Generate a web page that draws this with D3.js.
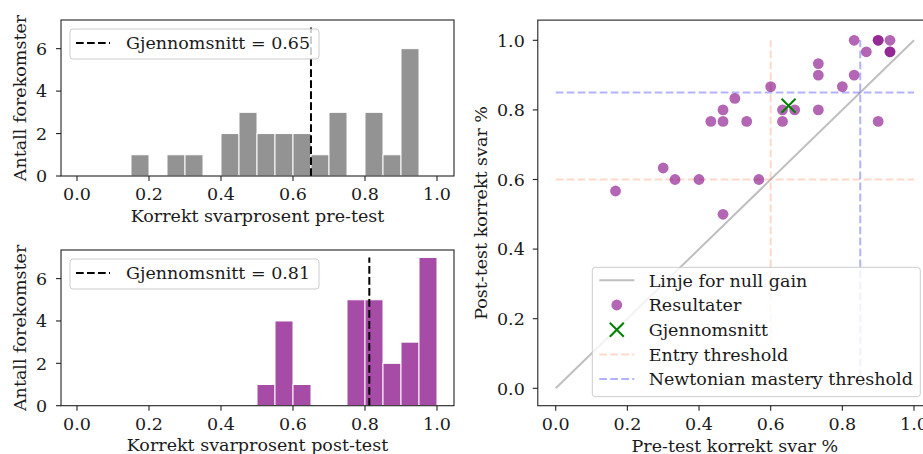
<!DOCTYPE html>
<html><head><meta charset="utf-8">
<script src="https://cdn.jsdelivr.net/npm/d3@7"></script>
<style>
body{margin:0;background:#fff;overflow:hidden}
svg{display:block}
text{font-family:"DejaVu Serif";fill:#1a1a1a}
</style>
</head><body>
<svg id="c" width="923" height="454"></svg>
<script>
// ---------- data ----------
const binEdges = [0,0.05,0.1,0.15,0.2,0.25,0.3,0.35,0.4,0.45,0.5,0.55,0.6,0.65,0.7,0.75,0.8,0.85,0.9,0.95,1.0];
const preCounts  = [0,0,0,1,0,1,1,0,2,3,2,2,2,1,3,0,3,1,6,0];
const postCounts = [0,0,0,0,0,0,0,0,0,0,1,4,1,0,0,5,5,2,3,7];
const preScores  = [0.833,0.9,0.9,0.933,0.867,0.933,0.933,0.733,0.733,0.833,0.8,0.6,0.5,0.467,0.633,0.667,0.733,0.433,0.467,0.533,0.633,0.9,0.3,0.333,0.4,0.567,0.167,0.467];
const postScores = [1.0,1.0,1.0,1.0,0.967,0.967,0.967,0.933,0.9,0.9,0.867,0.867,0.833,0.8,0.8,0.8,0.8,0.767,0.767,0.767,0.767,0.767,0.633,0.6,0.6,0.6,0.567,0.5];
const xTicks = [0.0,0.2,0.4,0.6,0.8,1.0];
const histYTicks = [0,2,4,6];
const scatYTicks = [0.0,0.2,0.4,0.6,0.8,1.0];
const entryThreshold = 0.6;
const masteryThreshold = 0.85;
const scatterLegend = ["Linje for null gain","Resultater","Gjennomsnitt","Entry threshold","Newtonian mastery threshold"];
const histXLabels = ["Korrekt svarprosent pre-test","Korrekt svarprosent post-test"];

const FS = 17.5;
const svg = d3.select("#c");
const fmt = d3.format(".1f");
const DASH = "7.7,3.3";

const preMean = d3.mean(preScores), postMean = d3.mean(postScores);

function frame(g, x0, x1, y0, y1){
  g.append("rect").attr("x",x0).attr("y",y0).attr("width",x1-x0).attr("height",y1-y0)
   .attr("fill","none").attr("stroke","#222").attr("stroke-width",1.1);
}

function hist(top, bottom, counts, color, mean, xlabel){
  const g = svg.append("g");
  const x = d3.scaleLinear().domain([0,1]).range([77,437]);
  const y = d3.scaleLinear().domain([0,7]).range([bottom, bottom-(bottom-top)*7/7.35]);
  const L = x(-0.0444), R = x(1.0472);
  const bins = counts.map((c,i)=>({x0:binEdges[i], x1:binEdges[i+1], c}));
  g.selectAll("rect.bar").data(bins.filter(b=>b.c>0)).join("rect").attr("class","bar")
    .attr("x",d=>x(d.x0)).attr("width",d=>x(d.x1)-x(d.x0))
    .attr("y",d=>y(d.c)).attr("height",d=>bottom-y(d.c))
    .attr("fill",color).attr("stroke","#fff").attr("stroke-width",1);
  // mean line
  g.append("line").attr("x1",x(mean)).attr("x2",x(mean)).attr("y1",y(0)).attr("y2",y(7))
    .attr("stroke","#000").attr("stroke-width",2).attr("stroke-dasharray",DASH);
  frame(g, L, R, top, bottom);
  xTicks.forEach(t=>{
    g.append("line").attr("x1",x(t)).attr("x2",x(t)).attr("y1",bottom).attr("y2",bottom+5).attr("stroke","#222").attr("stroke-width",1.1);
    g.append("text").attr("x",x(t)).attr("y",bottom+23.8).attr("text-anchor","middle").attr("font-size",FS).text(fmt(t));
  });
  histYTicks.forEach(t=>{
    g.append("line").attr("x1",L).attr("x2",L-5).attr("y1",y(t)).attr("y2",y(t)).attr("stroke","#222").attr("stroke-width",1.1);
    g.append("text").attr("x",L-14).attr("y",y(t)).attr("dy","0.36em").attr("text-anchor","end").attr("font-size",FS).text(t);
  });
  g.append("text").attr("x",(L+R)/2).attr("y",bottom+45.7).attr("text-anchor","middle").attr("font-size",FS).text(xlabel);
  g.append("text").attr("transform",`translate(26,${(top+bottom)/2}) rotate(-90)`).attr("text-anchor","middle").attr("font-size",FS).text("Antall forekomster");
  // legend
  const lg = g.append("g").attr("transform",`translate(70,${top+9})`);
  lg.append("rect").attr("width",249).attr("height",30).attr("rx",3).attr("fill","#fff").attr("fill-opacity",0.8).attr("stroke","#ccc").attr("stroke-width",1);
  lg.append("line").attr("x1",6).attr("x2",40).attr("y1",14).attr("y2",14).attr("stroke","#000").attr("stroke-width",2).attr("stroke-dasharray",DASH);
  lg.append("text").attr("x",56).attr("y",14).attr("dy","0.36em").attr("font-size",FS).text("Gjennomsnitt = " + mean.toFixed(2));
}

hist(20, 176, preCounts, "rgb(147,147,147)", preMean, histXLabels[0]);
hist(250, 405.7, postCounts, "rgb(166,76,166)", postMean, histXLabels[1]);

// ---------- scatter ----------
(function(){
  const g = svg.append("g");
  const x = d3.scaleLinear().domain([0,1]).range([555.7,914]);
  const y = d3.scaleLinear().domain([0,1]).range([388.3,40.3]);
  const L = x(-0.05), R = x(1.05), T = y(1.058), B = y(-0.05);
  g.append("line").attr("x1",x(0)).attr("y1",y(0)).attr("x2",x(1)).attr("y2",y(1))
    .attr("stroke","gray").attr("stroke-opacity",0.5).attr("stroke-width",2);
  const thr = [[entryThreshold,"coral"],[masteryThreshold,"blue"]];
  thr.forEach(([v,c])=>{
    g.append("line").attr("x1",x(0)).attr("x2",x(1)).attr("y1",y(v)).attr("y2",y(v))
      .attr("stroke",c).attr("stroke-opacity",0.3).attr("stroke-width",2).attr("stroke-dasharray",DASH);
    g.append("line").attr("x1",x(v)).attr("x2",x(v)).attr("y1",y(0)).attr("y2",y(1))
      .attr("stroke",c).attr("stroke-opacity",0.3).attr("stroke-width",2).attr("stroke-dasharray",DASH);
  });
  g.selectAll("circle.pt").data(preScores.map((p,i)=>[p,postScores[i]])).join("circle").attr("class","pt")
    .attr("cx",d=>x(d[0])).attr("cy",d=>y(d[1])).attr("r",5.4)
    .attr("fill","purple").attr("fill-opacity",0.6);
  const cx = x(preMean), cy = y(postMean), s = 7;
  g.append("path").attr("d",`M${cx-s},${cy-s}L${cx+s},${cy+s}M${cx-s},${cy+s}L${cx+s},${cy-s}`)
    .attr("stroke","green").attr("stroke-width",2);
  frame(g, L, R, T, B);
  xTicks.forEach(t=>{
    g.append("line").attr("x1",x(t)).attr("x2",x(t)).attr("y1",B).attr("y2",B+5).attr("stroke","#222").attr("stroke-width",1.1);
    g.append("text").attr("x",x(t)).attr("y",B+23.8).attr("text-anchor","middle").attr("font-size",FS).text(fmt(t));
  });
  scatYTicks.forEach(t=>{
    g.append("line").attr("x1",L).attr("x2",L-5).attr("y1",y(t)).attr("y2",y(t)).attr("stroke","#222").attr("stroke-width",1.1);
    g.append("text").attr("x",L-13).attr("y",y(t)).attr("dy","0.36em").attr("text-anchor","end").attr("font-size",FS).text(fmt(t));
  });
  g.append("text").attr("x",(L+R)/2).attr("y",B+46).attr("text-anchor","middle").attr("font-size",FS).text("Pre-test korrekt svar %");
  g.append("text").attr("transform",`translate(487,${(T+B)/2}) rotate(-90)`).attr("text-anchor","middle").attr("font-size",FS).text("Post-test korrekt svar %");
  const lg = g.append("g").attr("transform","translate(592.3,267.3)");
  lg.append("rect").attr("width",328).attr("height",129.4).attr("rx",3).attr("fill","#fff").attr("fill-opacity",0.8).attr("stroke","#ccc").attr("stroke-width",1);
  const rowY = i => 13 + i*24.7;
  const hx0 = 7, hx1 = 42, hm = 24.5;
  lg.append("line").attr("x1",hx0).attr("x2",hx1).attr("y1",rowY(0)).attr("y2",rowY(0)).attr("stroke","gray").attr("stroke-opacity",0.5).attr("stroke-width",2);
  lg.append("circle").attr("cx",hm).attr("cy",rowY(1)).attr("r",5.4).attr("fill","purple").attr("fill-opacity",0.6);
  lg.append("path").attr("d",`M${hm-s},${rowY(2)-s}L${hm+s},${rowY(2)+s}M${hm-s},${rowY(2)+s}L${hm+s},${rowY(2)-s}`).attr("stroke","green").attr("stroke-width",2);
  lg.append("line").attr("x1",hx0).attr("x2",hx1).attr("y1",rowY(3)).attr("y2",rowY(3)).attr("stroke","coral").attr("stroke-opacity",0.3).attr("stroke-width",2).attr("stroke-dasharray",DASH);
  lg.append("line").attr("x1",hx0).attr("x2",hx1).attr("y1",rowY(4)).attr("y2",rowY(4)).attr("stroke","blue").attr("stroke-opacity",0.3).attr("stroke-width",2).attr("stroke-dasharray",DASH);
  scatterLegend.forEach((t,i)=>{
    lg.append("text").attr("x",56.4).attr("y",rowY(i)).attr("dy","0.36em").attr("font-size",FS).text(t);
  });
})();
</script>
</body></html>
